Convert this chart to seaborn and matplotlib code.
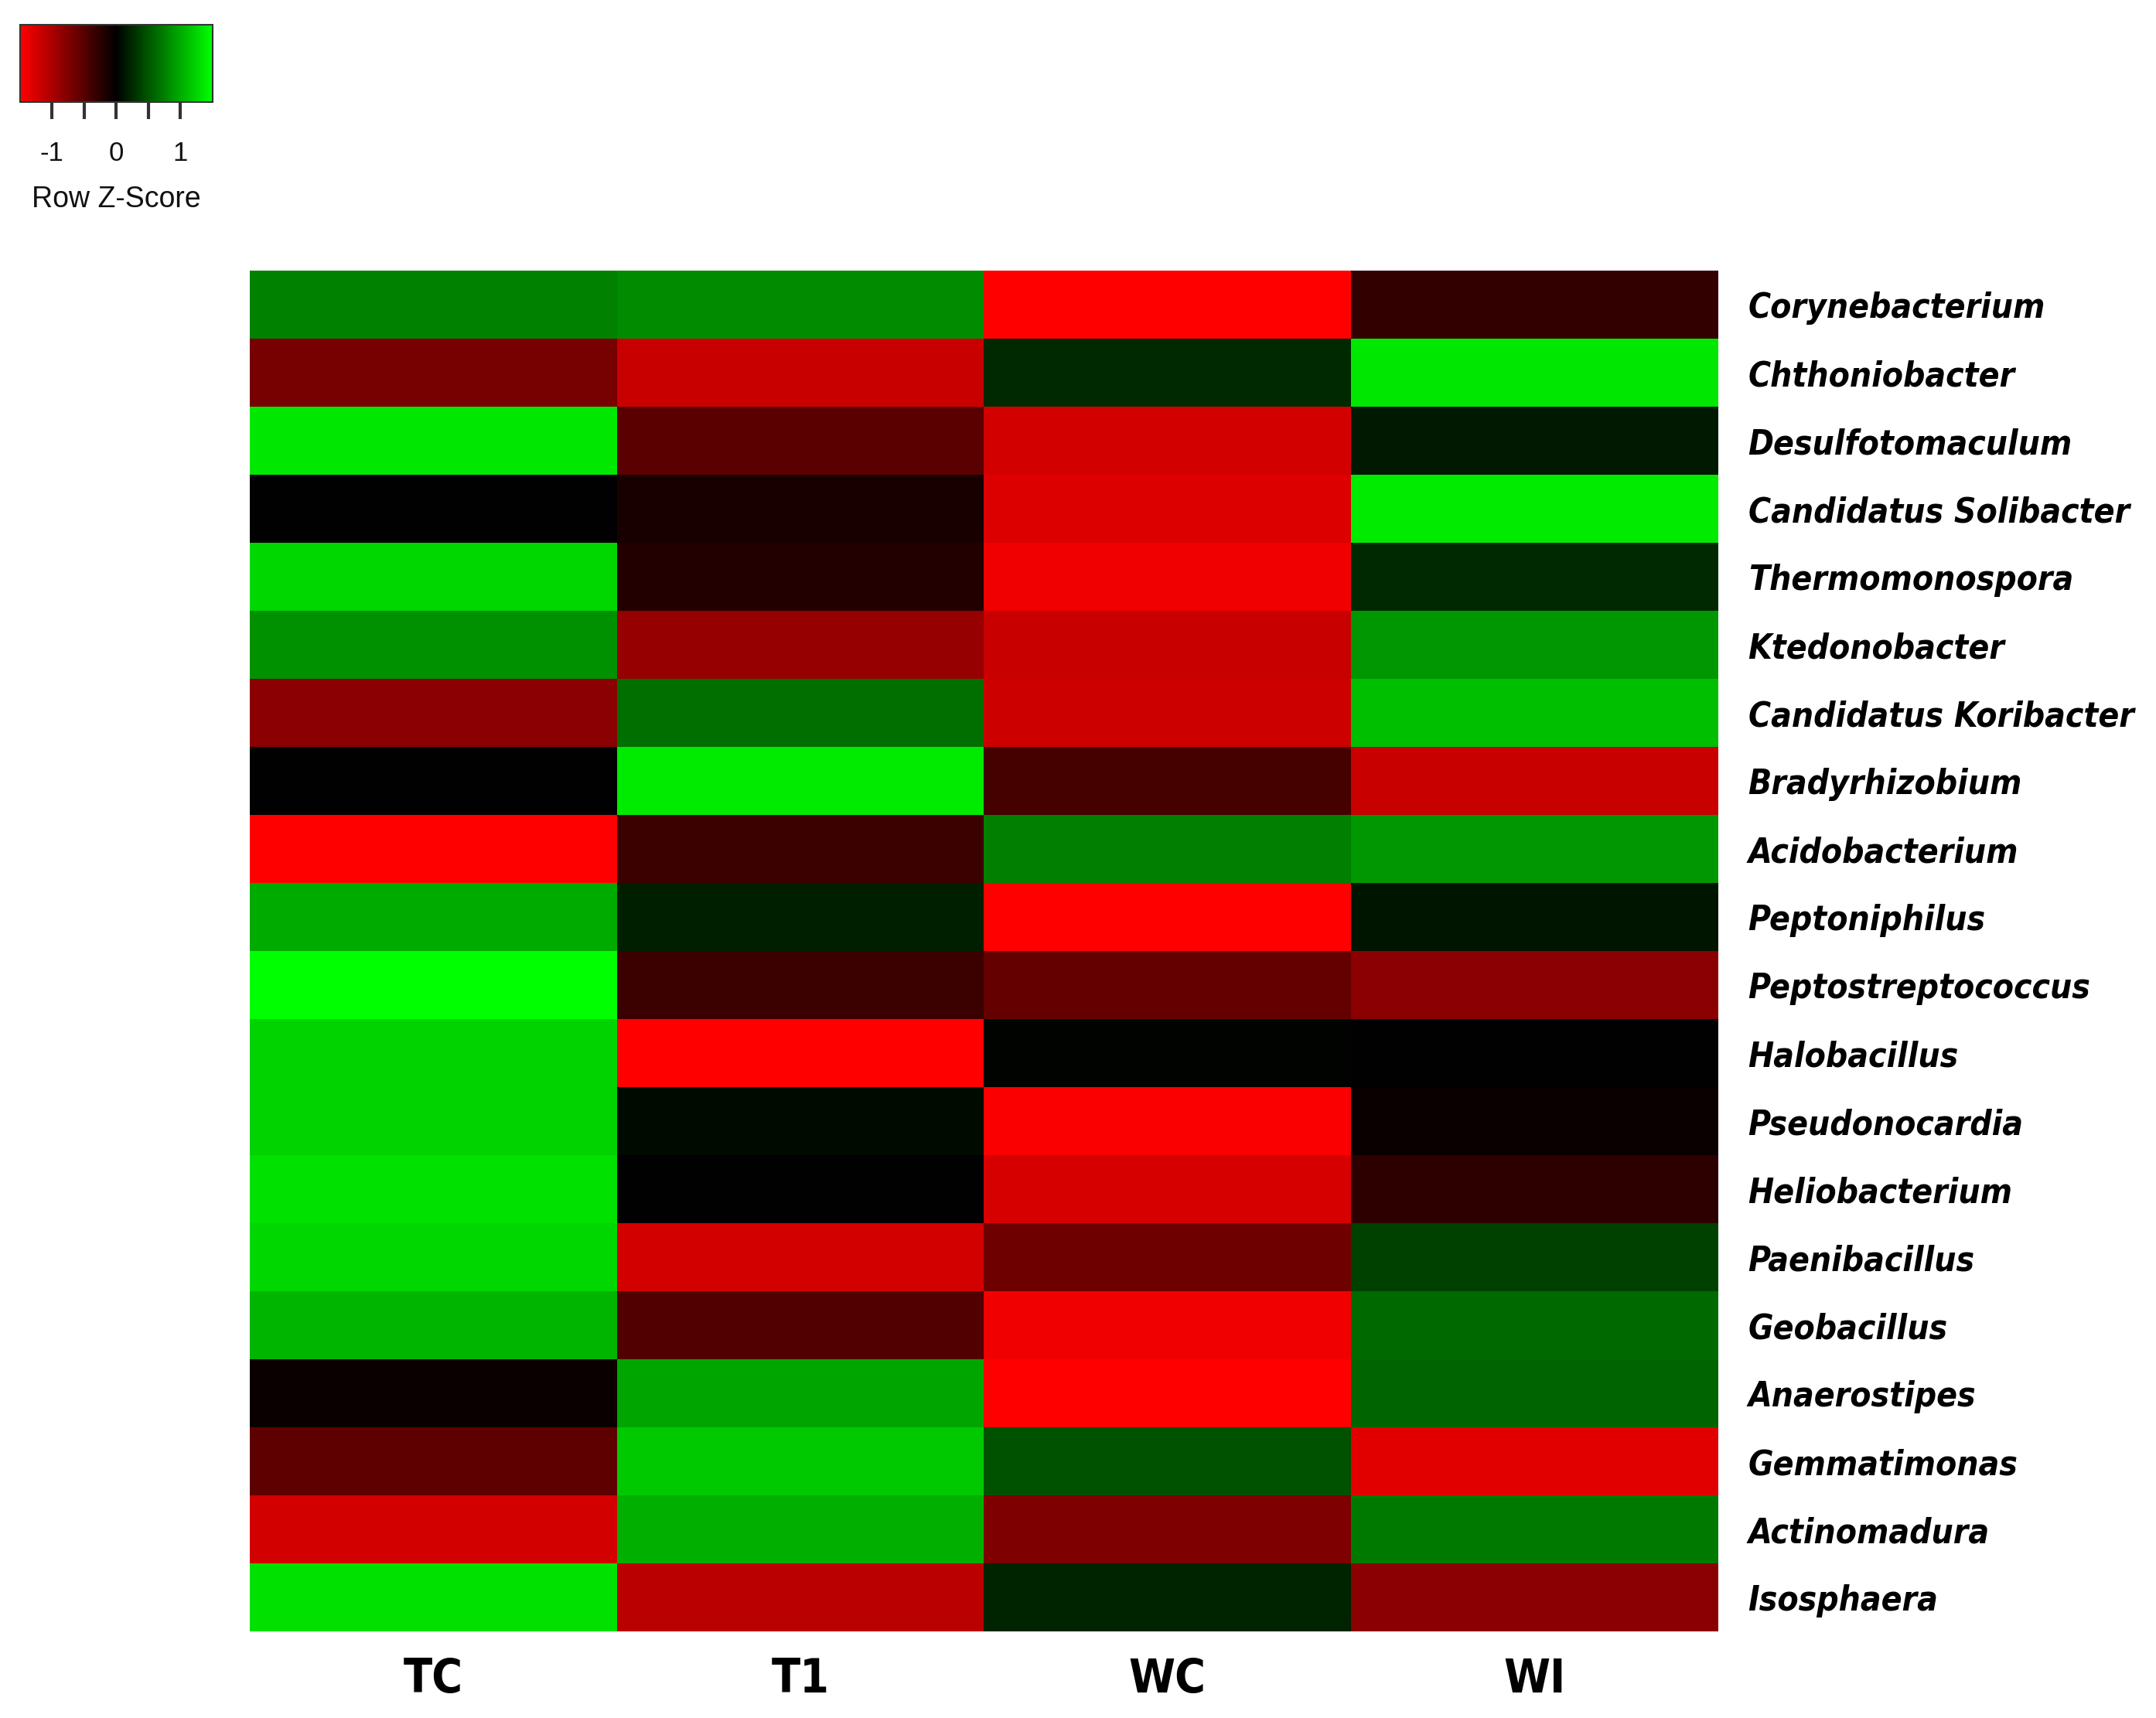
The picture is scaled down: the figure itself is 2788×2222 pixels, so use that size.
import numpy as np
import pandas as pd
import matplotlib
matplotlib.use("Agg")
import matplotlib.pyplot as plt
import seaborn as sns
from matplotlib import font_manager
from matplotlib.colors import LinearSegmentedColormap

# genera (rows) and samples (columns)
genera = ["Corynebacterium", "Chthoniobacter", "Desulfotomaculum", "Candidatus Solibacter",
          "Thermomonospora", "Ktedonobacter", "Candidatus Koribacter", "Bradyrhizobium",
          "Acidobacterium", "Peptoniphilus", "Peptostreptococcus", "Halobacillus",
          "Pseudonocardia", "Heliobacterium", "Paenibacillus", "Geobacillus",
          "Anaerostipes", "Gemmatimonas", "Actinomadura", "Isosphaera"]
samples = ["TC", "T1", "WC", "WI"]

# row z-scores
tc = [0.76, -0.70, 1.35, 0.00, 1.26, 0.85, -0.82, 0.00, -1.50, 1.00,
      1.50, 1.24, 1.24, 1.32, 1.26, 1.06, -0.06, -0.56, -1.24, 1.32]
t1 = [0.82, -1.18, -0.53, -0.15, -0.20, -0.88, 0.65, 1.38, -0.35, 0.18,
      -0.35, -1.50, 0.06, 0.00, -1.24, -0.47, 0.97, 1.18, 1.03, -1.09]
wc = [-1.50, 0.24, -1.24, -1.30, -1.41, -1.18, -1.20, -0.41, 0.74, -1.50,
      -0.59, 0.02, -1.47, -1.26, -0.65, -1.41, -1.50, 0.47, -0.74, 0.21]
wi = [-0.30, 1.35, 0.15, 1.38, 0.24, 0.88, 1.12, -1.18, 0.88, 0.12,
      -0.82, 0.00, -0.06, -0.26, 0.38, 0.62, 0.59, -1.32, 0.71, -0.82]

df = pd.DataFrame({"TC": tc, "T1": t1, "WC": wc, "WI": wi}, index=genera)[samples]

redgreen = LinearSegmentedColormap.from_list("redgreen", ["#ff0000", "#000000", "#00ff00"])

sns.set_style("white")

# look for a condensed bold font (the original labels are narrow), else Lato
fonts = font_manager.fontManager.ttflist
order = {"condensed": 0, "extra-condensed": 1, "semi-condensed": 2, "ultra-condensed": 3}
def is_bold(f):
    return f.weight in ("bold", 700, "700")
cond_it = sorted([f for f in fonts if f.stretch in order and f.style != "normal" and is_bold(f)],
                 key=lambda f: order[f.stretch])
cond_up = sorted([f for f in fonts if f.stretch in order and f.style == "normal" and is_bold(f)],
                 key=lambda f: order[f.stretch])
if cond_it:
    row_fp = font_manager.FontProperties(fname=cond_it[0].fname)
else:
    row_fp = font_manager.FontProperties(family="Lato", weight="bold", style="italic")
if cond_up:
    col_fp = font_manager.FontProperties(fname=cond_up[0].fname)
else:
    col_fp = font_manager.FontProperties(family="Lato", weight="bold")

fig = plt.figure(figsize=(27.88, 22.22), dpi=100)
renderer = fig.canvas.get_renderer()

# size the label fonts so the widths come out like the original
def fit_size(fp, text, width_px):
    probe = fp.copy()
    probe.set_size(100)
    t = fig.text(0, 0, text, fontproperties=probe)
    w = t.get_window_extent(renderer).width
    t.remove()
    return 100 * width_px / w

row_fp.set_size(min(46, fit_size(row_fp, "Corynebacterium", 385)))
col_fp.set_size(min(56, fit_size(col_fp, "WC", 100)))

ax = fig.add_axes([0.1159, 0.0504, 0.681, 0.792])
cax = fig.add_axes([0.0093, 0.9406, 0.0893, 0.045])

sns.heatmap(df, ax=ax, cmap=redgreen, vmin=-1.5, vmax=1.5, cbar=True, cbar_ax=cax,
            cbar_kws={"orientation": "horizontal", "ticks": [-1, -0.5, 0, 0.5, 1]})

# row labels on the right
ax.yaxis.tick_right()
ax.set_yticks(np.arange(len(genera)) + 0.5)
ax.set_yticklabels(genera, rotation=0, ha="left", fontproperties=row_fp, color="black")
ax.set_xticklabels(samples, fontproperties=col_fp, color="black")
ax.tick_params(axis="both", length=0)
ax.tick_params(axis="y", pad=28)
ax.tick_params(axis="x", pad=24)
ax.set_xlabel("")
ax.set_ylabel("")

# colour key
cbar = ax.collections[0].colorbar
cbar.outline.set_visible(True)
cbar.outline.set_linewidth(1.5)
cbar.outline.set_edgecolor("#333333")
cax.tick_params(axis="x", length=16, width=3, color="#333333", labelsize=25, pad=20,
                labelcolor="#111111")
cax.set_xticklabels(["-1", "", "0", "", "1"], family="Liberation Sans")
cax.set_xlabel("Row Z-Score", fontsize=27, labelpad=18, family="Liberation Sans",
               color="#111111")

fig.savefig("out.png", dpi=100)
